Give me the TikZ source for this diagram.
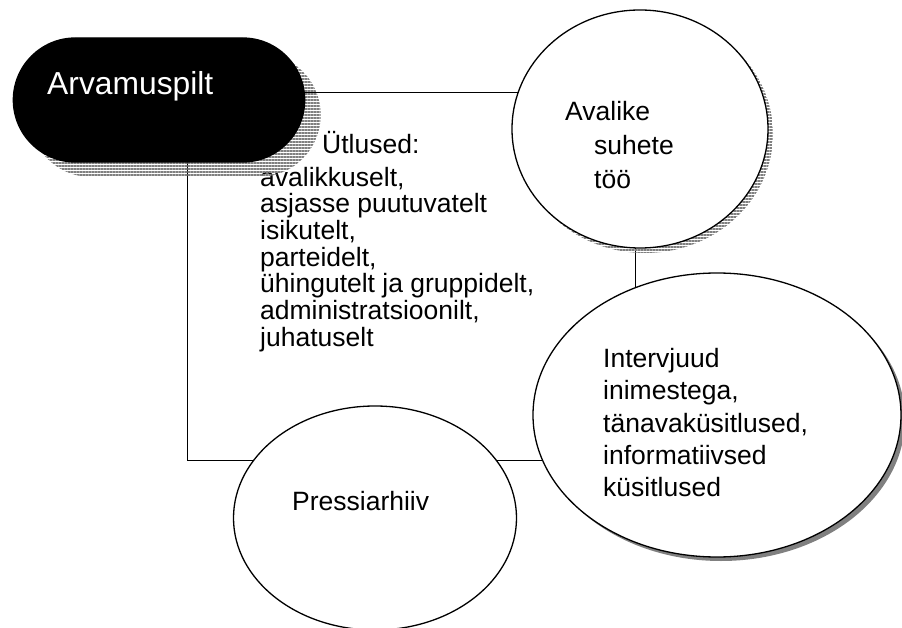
\documentclass[tikz,border=0pt]{standalone}
\usepackage{fontspec}
\setmainfont{Liberation Sans}
\usetikzlibrary{shapes.misc,shapes.geometric,patterns.meta,backgrounds}

\tikzset{
  bubble/.style={ellipse, draw, line width=1.3pt, fill=white, inner sep=0pt},
  stripeshadow/.style={preaction={draw=none, pattern={Lines[angle=0,distance=3pt,line width=1.8pt]}, pattern color=gray, transform canvas={shift={(#1)}}}},
  greyshadow/.style={preaction={draw=none, fill=gray, transform canvas={shift={(#1)}}}},
  txt/.style={inner sep=0pt, align=left, font=\fontsize{26.5}{32.3}\selectfont},
}

\begin{document}
\begin{tikzpicture}[x=1pt,y=-1pt]
    \useasboundingbox (0,0) rectangle (902,628);

    % text block under the title
    \node[txt, anchor=north west, font=\fontsize{26.5}{26.7}\selectfont] (say) at (260,131) {\hspace*{62pt}Ütlused:\\[6pt]
        avalikkuselt,\\
        asjasse puutuvatelt\\
        isikutelt,\\
        parteidelt,\\
        ühingutelt ja gruppidelt,\\
        administratsioonilt,\\
        juhatuselt};

    \node[rounded rectangle, draw, fill=black, line width=1.3pt, minimum width=298pt, minimum height=124pt, stripeshadow={16,15}] (arv) at (159,100) {};
    \node[txt, anchor=base west, text=white, font=\fontsize{31.8}{37}\selectfont] (arvtxt) at (47,95) {Arvamuspilt};

    \node[bubble, minimum width=256pt, minimum height=238pt, stripeshadow={5,5}] (aval) at (640,129) {};
    \node[txt, anchor=north west, font=\fontsize{26.5}{34}\selectfont] (avaltxt) at (565,101) {Avalike\\
        \hspace*{29pt}suhete\\
        \hspace*{29pt}töö};

    \node[bubble, minimum width=368pt, minimum height=284pt, greyshadow={4,4}] (intv) at (717,415) {};
    \node[txt, anchor=north west] (intvtxt) at (603,348) {Intervjuud\\
        inimestega,\\
        tänavaküsitlused,\\
        informatiivsed\\
        küsitlused};

    \node[bubble, minimum width=283pt, minimum height=224pt] (press) at (375,518) {};
    \node[txt, anchor=base west] (presstxt) at (292,510) {Pressiarhiiv};

    % connecting frame
    \coordinate (tl) at (187,92);
    \coordinate (br) at (635,460);
    \begin{scope}[on background layer, line width=1.3pt]
        \draw (arv.center |- tl) -- (aval.center |- tl);
        \draw (aval.center -| br) -- (intv.center -| br);
        \draw (intv.center |- br) -- (press.center |- br);
        \draw (press.center |- br) -- (tl |- br) -- (tl |- arv.center);
    \end{scope}
\end{tikzpicture}
\end{document}
